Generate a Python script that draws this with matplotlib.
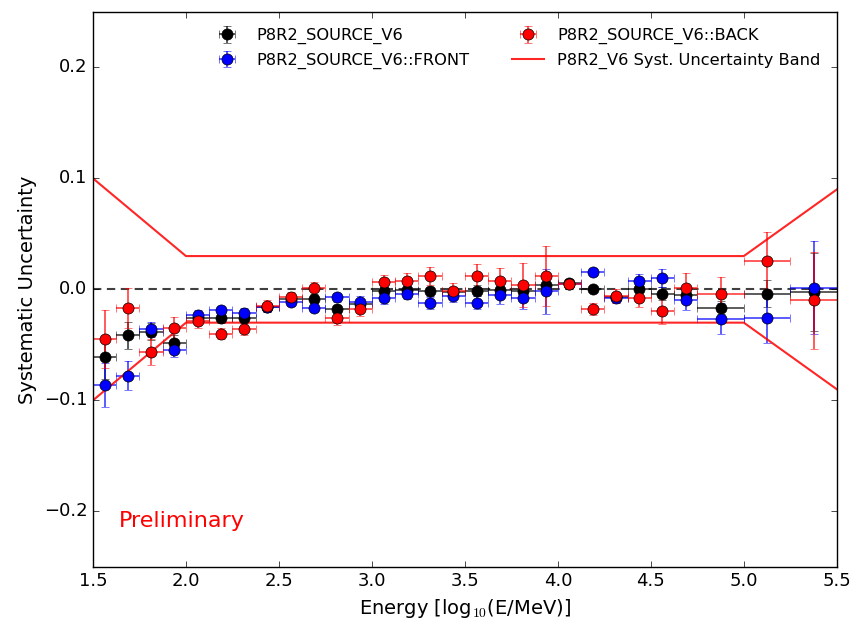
import matplotlib
matplotlib.use("Agg")
import matplotlib.pyplot as plt
import numpy as np

# energy bins (log10 E/MeV)
bin_edges = [1.5 + 0.125 * i for i in range(27)] + [5.0, 5.25, 5.5]

src = [-0.061, -0.0415, -0.038, -0.048, -0.026, -0.026, -0.026, -0.016, -0.009, -0.0085,
       -0.0177, -0.013, -0.0018, -0.001, -0.0018, -0.002, -0.0012, -0.001, -0.0012, 0.0036,
       0.006, 0.0003, -0.007, 0.0, -0.004, -0.0054, -0.0165, -0.004, -0.0024]
src_err = [0.02, 0.012, 0.008, 0.007, 0.004, 0.004, 0.004, 0.004, 0.003, 0.004,
           0.004, 0.004, 0.004, 0.004, 0.004, 0.004, 0.005, 0.006, 0.007, 0.008,
           0.003, 0.003, 0.004, 0.005, 0.006, 0.006, 0.006, 0.012, 0.035]

front = [-0.086, -0.078, -0.036, -0.055, -0.023, -0.019, -0.021, -0.016, -0.011, -0.0165,
         -0.007, -0.011, -0.0081, -0.0039, -0.0123, -0.0063, -0.012, -0.0048, -0.0078, -0.0018,
         0.005, 0.0156, -0.0075, 0.0072, 0.0103, -0.0099, -0.0264, -0.026, 0.0015]
front_err = [0.02, 0.013, 0.007, 0.006, 0.004, 0.004, 0.004, 0.004, 0.004, 0.004,
             0.004, 0.005, 0.005, 0.005, 0.005, 0.005, 0.006, 0.008, 0.01, 0.02,
             0.004, 0.004, 0.005, 0.007, 0.008, 0.009, 0.014, 0.022, 0.042]

back = [-0.045, -0.0165, -0.0565, -0.035, -0.0285, -0.040, -0.036, -0.0147, -0.0072, 0.001,
        -0.026, -0.0177, 0.0063, 0.0075, 0.0117, -0.0012, 0.012, 0.0075, 0.0042, 0.0117,
        0.005, -0.0177, -0.006, -0.0081, -0.0195, 0.0015, -0.0039, 0.026, -0.0099]
back_err = [0.026, 0.018, 0.012, 0.01, 0.006, 0.005, 0.005, 0.005, 0.005, 0.006,
            0.006, 0.006, 0.007, 0.007, 0.008, 0.007, 0.011, 0.012, 0.02, 0.027,
            0.004, 0.005, 0.006, 0.008, 0.012, 0.013, 0.015, 0.026, 0.044]

# systematic uncertainty band
band_x = [1.5, 2.0, 5.0, 5.5]
band_hi = [0.1, 0.03, 0.03, 0.09]
band_lo = [-0.1, -0.03, -0.03, -0.09]

edges = np.array(bin_edges)
xc = 0.5 * (edges[1:] + edges[:-1])
xw = 0.5 * (edges[1:] - edges[:-1])

plt.style.use("classic")
fig = plt.figure(figsize=(8.53, 6.27), dpi=100, facecolor="white")
ax = fig.add_axes([0.109, 0.096, 0.872, 0.885])

ax.axhline(0, color="black", ls="--", lw=1.5, dashes=(6, 4), alpha=0.75)

hs = []
for y, e, c, lab in [(src, src_err, "black", "P8R2_SOURCE_V6"),
                     (front, front_err, "blue", "P8R2_SOURCE_V6::FRONT"),
                     (back, back_err, "red", "P8R2_SOURCE_V6::BACK")]:
    h = ax.errorbar(xc, y, xerr=xw, yerr=e, fmt="o", color=c, ecolor=c,
                    mec="black", ms=8, capsize=3, elinewidth=1.2, label=lab)
    for art in h[1] + h[2]:
        art.set_alpha(0.75)
    hs.append(h)

l1, = ax.plot(band_x, band_hi, color="red", lw=1.5, alpha=0.85,
              label="P8R2_V6 Syst. Uncertainty Band")
ax.plot(band_x, band_lo, color="red", lw=1.5, alpha=0.85)

ax.text(1.64, -0.214, "Preliminary", color="red", fontsize=16)

ax.set_xlim(1.5, 5.5)
ax.set_ylim(-0.25, 0.25)
ax.set_xticks(np.arange(1.5, 5.51, 0.5))
ax.set_yticks([-0.2, -0.1, 0.0, 0.1, 0.2])
ax.tick_params(labelsize=13)
ax.set_xlabel(r"Energy [log$_{10}$(E/MeV)]", fontsize=14)
ax.set_ylabel("Systematic Uncertainty", fontsize=14)

ax.legend(handles=[hs[0], hs[1], hs[2], l1], ncol=2, frameon=False,
          loc="upper right", fontsize=11.7, numpoints=1,
          borderaxespad=0.6, columnspacing=2.6, handletextpad=0.8)

fig.savefig("out.png", dpi=100, facecolor="white")
